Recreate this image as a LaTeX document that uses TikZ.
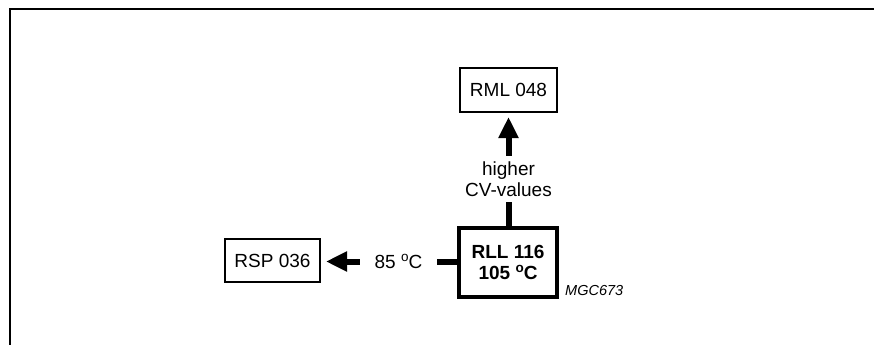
\documentclass[tikz,border=0pt]{standalone}
\usepackage{fontspec}
\setmainfont{Liberation Sans}
\usetikzlibrary{arrows.meta}
\newcommand{\degsup}{\raisebox{0.36em}{\fontsize{13.5}{13.5}\selectfont o}}
\begin{document}
\begin{tikzpicture}[x=1pt,y=-1pt,
  txt/.style={font=\fontsize{19}{21}\selectfont},
  thinbox/.style={draw,line width=2pt,txt,inner sep=0pt},
  thickbox/.style={draw,line width=4pt,txt,inner sep=0pt,align=center},
  shaft/.style={line width=6pt},
  bigarrow/.style={line width=6pt,-{Triangle[length=21pt 0,width=19pt 0]}},
  frameline/.style={line width=2pt}]
\useasboundingbox (0,0) rectangle (874,345);
% frame
\coordinate (fa) at (874,9.5);
\coordinate (fb) at (10,9.5);
\coordinate (fc) at (10,345);
\draw[frameline] (fa) -- (fb) -- (fc);
% boxes
\node[thinbox,minimum width=97pt,minimum height=44pt] (rml) at (508.5,90) {RML 048};
\node[thickbox,minimum width=98pt,minimum height=69pt,font=\fontsize{19}{21}\selectfont\bfseries] (rll) at (508,262.5) {RLL 116\\105 \degsup C};
\node[thinbox,minimum width=95pt,minimum height=43pt] (rsp) at (272.5,260.5) {RSP 036};
% labels
\node[txt,align=center,inner sep=0pt,minimum height=46pt] (lbl) at (508.5,179) {higher\\CV-values};
\node[txt,inner sep=0pt,minimum width=77pt] (lbl2) at (398.5,261.5) {85 \degsup C};
\node[anchor=base west,inner sep=0pt,font=\fontsize{14.5}{16}\selectfont\itshape] (mgc) at (565,295) {MGC673};
% connectors
\draw[shaft] (rll.north -| lbl.south) -- (lbl.south);
\draw[bigarrow,shorten >=4pt] (lbl.north) -- (lbl.north |- rml.south);
\draw[shaft] (rll.west |- lbl2.east) -- (lbl2.east);
\draw[bigarrow,shorten >=5pt] (lbl2.west) -- (lbl2.west -| rsp.east);
\end{tikzpicture}
\end{document}
